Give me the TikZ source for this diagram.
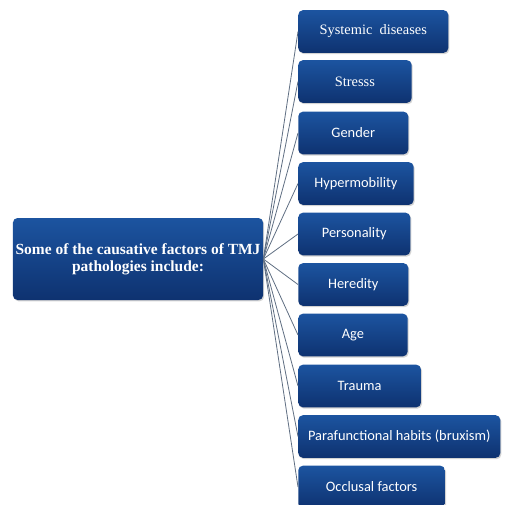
\documentclass[tikz,border=0pt]{standalone}
\usepackage{fontspec}
\setmainfont{Liberation Serif}
\newfontfamily\carlito{Carlito}
\usetikzlibrary{shadows}

\definecolor{boxtop}{RGB}{28,84,160}
\definecolor{boxbottom}{RGB}{14,50,112}
\definecolor{linkgray}{RGB}{95,110,130}

\begin{document}
\begin{tikzpicture}[x=0.75pt, y=-0.75pt,
    box/.style={rounded corners=3.5pt, top color=boxtop, bottom color=boxbottom,
        text=white, align=center, inner sep=2pt,
        drop shadow={shadow xshift=0.8pt, shadow yshift=-1pt, opacity=0.35}},
    factor/.style={box, anchor=west, minimum height=32pt, font=\carlito\fontsize{10.8}{12}\selectfont},
    link/.style={linkgray, line width=0.6pt}]
    \useasboundingbox (0,0) rectangle (506,504);

    % central box
    \node[box, minimum width=187.5pt, minimum height=61.5pt, font=\bfseries\fontsize{11.6}{13}\selectfont]
        (causes) at (138,259) {Some of the causative factors of TMJ\\pathologies include:};

    % the factors, one below the other
    \node[factor, minimum width=112.5pt, font=\fontsize{10.8}{12}\selectfont] (systemic) at (298,31.5) {Systemic\ \ diseases};
    \node[factor, minimum width=85pt, font=\fontsize{10.8}{12}\selectfont] (stress) at (298,81.5) {Stresss};
    \node[factor, minimum width=82.5pt] (gender) at (298,133) {Gender};
    \node[factor, minimum width=86.5pt] (hypermob) at (298,183.5) {Hypermobility};
    \node[factor, minimum width=84pt] (personality) at (298,234) {Personality};
    \node[factor, minimum width=82.5pt] (heredity) at (298,284.5) {Heredity};
    \node[factor, minimum width=82pt] (age) at (298,335) {Age};
    \node[factor, minimum width=92pt] (trauma) at (298,386) {Trauma};
    \node[factor, minimum width=151.5pt] (parafunc) at (298,436.5) {Parafunctional habits (bruxism)};
    \node[factor, minimum width=110pt] (occlusal) at (298,487) {Occlusal factors};

    \foreach \f in {systemic,stress,gender,hypermob,personality,heredity,age,trauma,parafunc,occlusal}
        \draw[link] (causes.east) -- (\f.west);
\end{tikzpicture}
\end{document}
